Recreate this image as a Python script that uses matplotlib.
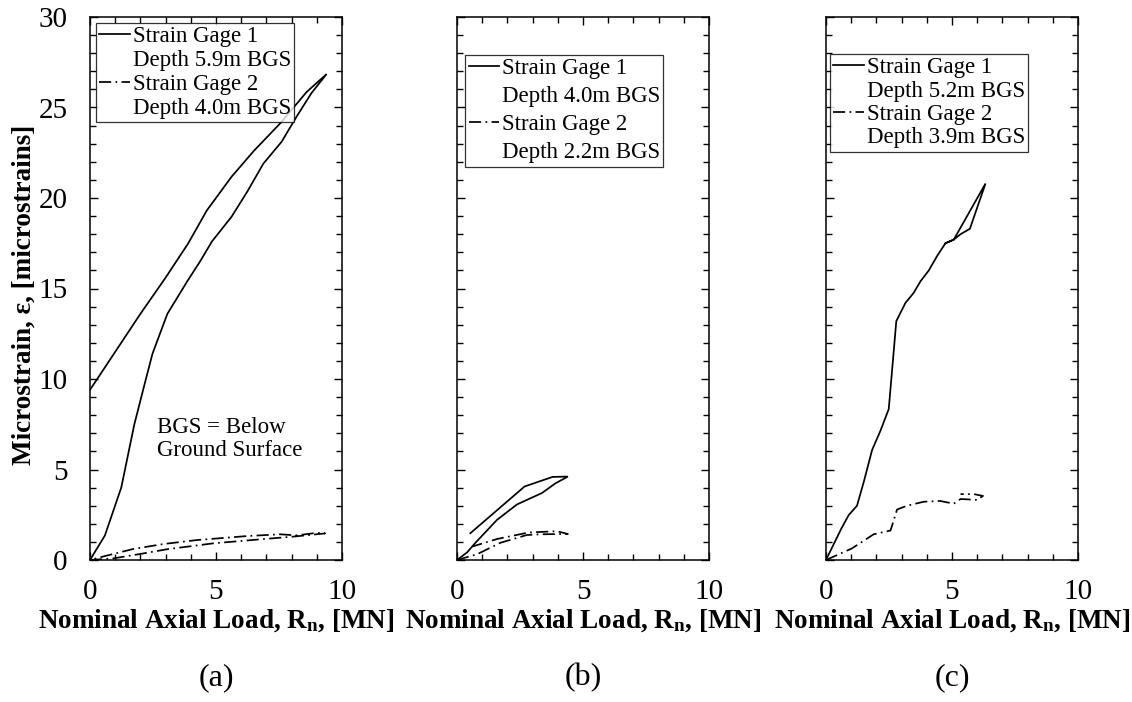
import matplotlib
matplotlib.use("Agg")
import matplotlib.pyplot as plt
from matplotlib.lines import Line2D
from matplotlib.ticker import MultipleLocator

plt.rcParams['font.family'] = ['Liberation Serif', 'DejaVu Serif']
plt.rcParams['mathtext.fontset'] = 'custom'
plt.rcParams['mathtext.rm'] = 'Liberation Serif'
plt.rcParams['mathtext.bf'] = 'Liberation Serif:bold'
plt.rcParams['mathtext.it'] = 'Liberation Serif:italic'

# ---- data: panel (a)
a_g1_x = [0, 0.59, 1.24, 1.76, 2.2, 2.48, 3.07, 3.86, 4.37, 4.84, 5.62, 6.24, 6.88, 7.6, 8.2, 8.79, 9.39,
          8.59, 7.6, 6.5, 5.62, 4.63, 3.9, 3.0, 2.0, 1.0, 0]
a_g1_y = [0, 1.35, 4.0, 7.5, 9.9, 11.4, 13.6, 15.4, 16.5, 17.6, 18.97, 20.35, 21.9, 23.1, 24.5, 25.8, 26.85,
          25.85, 24.2, 22.6, 21.18, 19.3, 17.5, 15.6, 13.6, 11.5, 9.4]
a_g2_x = [0, 0.93, 1.98, 3.04, 4.89, 6.74, 8.06, 9.33,
          9.0, 8.2, 7.54, 6.2, 4.23, 2.9, 1.72, 0.6, 0]
a_g2_y = [0, 0.09, 0.33, 0.59, 0.92, 1.14, 1.29, 1.47,
          1.5, 1.36, 1.42, 1.32, 1.1, 0.88, 0.61, 0.22, 0]

# ---- data: panel (b)
b_g1_x = [0, 0.4, 0.73, 1.59, 2.38, 3.37, 3.9, 4.4, 3.79, 2.68, 0.53]
b_g1_y = [0, 0.42, 0.95, 2.22, 3.07, 3.70, 4.23, 4.61, 4.59, 4.06, 1.48]
b_g2_x = [0, 0.8, 1.72, 2.77, 3.3, 4.4, 3.96, 2.84, 1.59, 0.6]
b_g2_y = [0, 0.32, 0.95, 1.38, 1.42, 1.44, 1.59, 1.52, 1.16, 0.74]

# ---- data: panel (c)
c_g1_x = [0, 0.61, 0.9, 1.23, 1.5, 1.83, 2.16, 2.49, 2.79, 3.15, 3.48, 3.75, 4.08, 4.41, 4.74, 5.07, 5.34, 5.71, 6.33,
          5.07, 4.74]
c_g1_y = [0, 1.74, 2.48, 3.0, 4.32, 6.08, 7.14, 8.34, 13.2, 14.2, 14.76, 15.4, 16.0, 16.8, 17.5, 17.7, 18.0, 18.3, 20.8,
          17.7, 17.5]
c_g2_x = [0, 1.03, 1.89, 2.56, 2.82, 3.22, 3.88, 4.54, 5.07, 5.34, 6.0, 6.23, 5.87, 5.34]
c_g2_y = [0, 0.64, 1.42, 1.63, 2.79, 3.0, 3.22, 3.26, 3.11, 3.37, 3.32, 3.54, 3.64, 3.64]

depths = [("5.9m", "4.0m"), ("4.0m", "2.2m"), ("5.2m", "3.9m")]
panel_tags = ["(a)", "(b)", "(c)"]

xlabel = r"Nominal Axial Load, R$_{\mathbf{n}}$, [MN]"
ylabel = "Microstrain, \u03b5, [microstrains]"

fig = plt.figure(figsize=(11.32, 7.02), dpi=100)
W, H = 1132, 702
lefts = [90, 457, 826]
top, bottom, width = 17, 560, 252

DASHDOT = (0, (7, 2.5, 1, 2.5))
LW = 1.25

data = [(a_g1_x, a_g1_y, a_g2_x, a_g2_y),
        (b_g1_x, b_g1_y, b_g2_x, b_g2_y),
        (c_g1_x, c_g1_y, c_g2_x, c_g2_y)]
leg_pos = [(0.024, 0.989), (0.032, 0.93), (0.016, 0.932)]
leg_spacing = [0.12, 0.3, 0.1]

for i in range(3):
    ax = fig.add_axes([lefts[i] / W, (H - bottom) / H, width / W, (bottom - top) / H])
    g1x, g1y, g2x, g2y = data[i]
    ax.plot(g1x, g1y, color='black', lw=LW, solid_joinstyle='miter')
    ax.plot(g2x, g2y, color='black', lw=LW, linestyle=DASHDOT)
    ax.set_xlim(0, 10)
    ax.set_ylim(0, 30)
    ax.xaxis.set_major_locator(MultipleLocator(5))
    ax.xaxis.set_minor_locator(MultipleLocator(1))
    ax.yaxis.set_major_locator(MultipleLocator(5))
    ax.yaxis.set_minor_locator(MultipleLocator(1))
    ax.tick_params(which='both', direction='in', top=True, right=True, width=1.0, labelsize=21)
    ax.tick_params(which='major', length=6)
    ax.tick_params(which='minor', length=4)
    ax.tick_params(axis='x', which='major', pad=14)
    ax.tick_params(axis='y', which='major', pad=16)
    if i > 0:
        ax.tick_params(labelleft=False)
    for s in ax.spines.values():
        s.set_linewidth(1.1)

    d1, d2 = depths[i]
    handles = [Line2D([], [], color='black', lw=LW),
               Line2D([], [], color='none'),
               Line2D([], [], color='black', lw=LW, linestyle=DASHDOT),
               Line2D([], [], color='none')]
    labels = ["Strain Gage 1", f"Depth {d1} BGS", "Strain Gage 2", f"Depth {d2} BGS"]
    leg = ax.legend(handles, labels, loc='upper left', bbox_to_anchor=leg_pos[i],
                    fontsize=16.5, frameon=True, fancybox=False, shadow=False,
                    handlelength=1.35, handletextpad=0.1, borderpad=0.15,
                    labelspacing=leg_spacing[i], borderaxespad=0.0)
    leg.get_frame().set_edgecolor('black')
    leg.get_frame().set_linewidth(0.9)

    cx = (lefts[i] + width / 2) / W
    fig.text(cx, 1 - 628 / H, xlabel, ha='center', va='baseline',
             fontsize=19.5, fontweight='bold')
    fig.text(cx, 1 - 678 / H, panel_tags[i], ha='center', va='center',
             fontsize=23)

    if i == 0:
        ax.text(2.66, 6.7, "BGS = Below\nGround Surface", ha='left', va='center',
                fontsize=16.5, linespacing=1.1)

fig.text(24 / W, 1 - 295 / H, ylabel, rotation=90, ha='center', va='center',
         fontsize=19.5, fontweight='bold')

fig.savefig("out.png", dpi=100)
